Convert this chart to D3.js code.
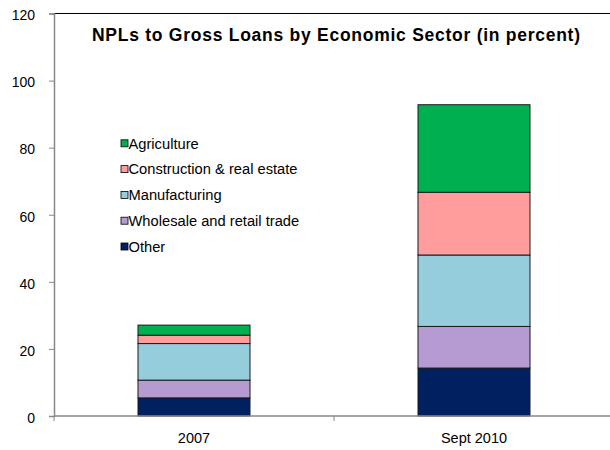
<!DOCTYPE html>
<html>
<head>
<meta charset="utf-8">
<script src="https://cdn.jsdelivr.net/npm/d3@7/dist/d3.min.js"></script>
<style>
  html, body { margin: 0; padding: 0; background: #fff; }
  svg { display: block; }
  svg text { font-family: Arial, "Liberation Sans", sans-serif; }
</style>
</head>
<body>
<svg id="chart" width="610" height="450"></svg>
<script>
// Periods on the x axis
const periods = ["2007", "Sept 2010"];
// Sectors, bottom of the stack first
const sectors = ["Other", "Wholesale and retail trade", "Manufacturing", "Construction & real estate", "Agriculture"];
// NPL share by sector, one value per period
const other = [5.4, 14.3];
const wholesale = [5.3, 12.4];
const manufacturing = [10.9, 21.3];
const construction = [2.5, 18.7];
const agriculture = [3.0, 26.1];
const yTicks = [0, 20, 40, 60, 80, 100, 120];
// Legend order, top to bottom
const legendOrder = ["Agriculture", "Construction & real estate", "Manufacturing", "Wholesale and retail trade", "Other"];

const colors = {
  "Other": "#002060",
  "Wholesale and retail trade": "#B69AD2",
  "Manufacturing": "#95CDDD",
  "Construction & real estate": "#FF9D9D",
  "Agriculture": "#00B050"
};

const seriesValues = {
  "Other": other,
  "Wholesale and retail trade": wholesale,
  "Manufacturing": manufacturing,
  "Construction & real estate": construction,
  "Agriculture": agriculture
};

const rows = periods.map((p, i) => {
  const r = { period: p };
  sectors.forEach(s => { r[s] = seriesValues[s][i]; });
  return r;
});

const svg = d3.select("#chart");
const plotLeft = 54, plotRight = 614, plotTop = 13.5, plotBottom = 416;

const x = d3.scaleBand().domain(periods).range([plotLeft, plotRight]).paddingInner(0.6).paddingOuter(0.3);
const y = d3.scaleLinear().domain([0, 120]).range([plotBottom, plotTop]);

const stacked = d3.stack().keys(sectors)(rows);

// top border of the plot area
svg.append("line")
  .attr("x1", plotLeft).attr("x2", 610)
  .attr("y1", plotTop).attr("y2", plotTop)
  .attr("stroke", "#000").attr("stroke-width", 1.2);

// stacked bars
svg.append("g").selectAll("g").data(stacked).join("g")
  .attr("fill", d => colors[d.key])
  .selectAll("rect").data(d => d).join("rect")
  .attr("x", d => x(d.data.period))
  .attr("width", x.bandwidth())
  .attr("y", d => y(d[1]))
  .attr("height", d => y(d[0]) - y(d[1]))
  .attr("stroke", "#1a1a1a")
  .attr("stroke-width", 1);

// y axis
const yAxis = svg.append("g")
  .attr("transform", `translate(${plotLeft},0)`)
  .call(d3.axisLeft(y).tickValues(yTicks).tickSize(5).tickPadding(14).tickFormat(d3.format("d")));
yAxis.attr("font-family", null).attr("font-size", null);
yAxis.select(".domain").attr("stroke", "#888").attr("stroke-width", 1.5);
yAxis.selectAll(".tick line").attr("stroke", "#888");
yAxis.selectAll(".tick text").attr("fill", "#000").attr("dy", "0.45em").style("font-size", "14px");

// x axis with tick marks at band boundaries
const xAxis = svg.append("g").attr("transform", `translate(0,${plotBottom})`);
xAxis.append("line").attr("x1", plotLeft).attr("x2", 610).attr("y1", 0).attr("y2", 0)
  .attr("stroke", "#888").attr("stroke-width", 1.5);
const bounds = [plotLeft, (x(periods[0]) + x.bandwidth() + x(periods[1])) / 2];
xAxis.selectAll("line.tk").data(bounds).join("line").attr("class", "tk")
  .attr("x1", d => d).attr("x2", d => d).attr("y1", 0).attr("y2", 5)
  .attr("stroke", "#888");
xAxis.selectAll("text").data(periods).join("text")
  .attr("x", d => x(d) + x.bandwidth() / 2)
  .attr("y", 27)
  .attr("text-anchor", "middle")
  .style("font-size", "14.5px")
  .text(d => d);

// title
svg.append("text")
  .attr("x", 92).attr("y", 41)
  .attr("textLength", 488).attr("lengthAdjust", "spacing")
  .style("font-size", "17.5px").style("font-weight", "bold")
  .text("NPLs to Gross Loans by Economic Sector (in percent)");

// legend
const legend = svg.append("g").selectAll("g").data(legendOrder).join("g")
  .attr("transform", (d, i) => `translate(121,${143.3 + i * 25.8})`);
legend.append("rect")
  .attr("x", 0).attr("y", -3.5).attr("width", 7).attr("height", 7)
  .attr("fill", d => colors[d]).attr("stroke", "#000").attr("stroke-width", 0.8);
legend.append("text")
  .attr("x", 7.5).attr("y", 5.2)
  .style("font-size", "14.7px")
  .text(d => d);
</script>
</body>
</html>
